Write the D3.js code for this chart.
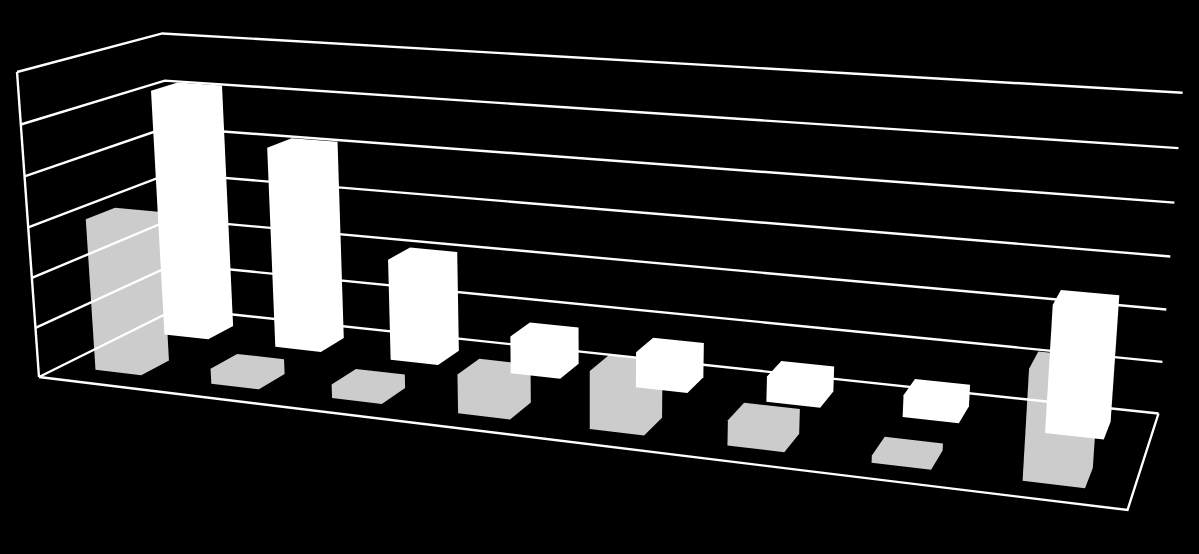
<!DOCTYPE html>
<html>
<head>
<meta charset="utf-8">
<script src="https://cdn.jsdelivr.net/npm/d3@7"></script>
<style>
  html, body { margin: 0; background: #000; overflow: hidden; }
</style>
</head>
<body>
<script>
// values, in grid units (no labels in the original)
const categories = [1, 2, 3, 4, 5, 6, 7, 8];
const frontValues = [3.05, 0.3, 0.27, 0.75, 1.1, 0.47, 0.13, 1.98];
const backValues = [5.13, 4.14, 2.07, 0.75, 0.7, 0.5, 0.42, 2.4];
const levels = [0, 1, 2, 3, 4, 5, 6];
const rows = ["front", "back"];

const width = 1199, height = 554;

// camera : floor corners on screen, then top of the front left edge
const floor = [[39, 377], [1127.5, 510], [1158.5, 413.5], [177, 308.5]];
const frontTopY = 72;
const vanish = [588, 7999];

function makeProjection(q, topY, v) {
  const [[x0, y0], [x1, y1], [x2, y2], [x3, y3]] = q;
  const dx1 = x1 - x2, dx2 = x3 - x2, sx = x0 - x1 + x2 - x3;
  const dy1 = y1 - y2, dy2 = y3 - y2, sy = y0 - y1 + y2 - y3;
  const den = dx1 * dy2 - dx2 * dy1;
  const g = (sx * dy2 - dx2 * sy) / den;
  const h = (dx1 * sy - sx * dy1) / den;
  const a = x1 - x0 + g * x1, b = x3 - x0 + h * x3;
  const d = y1 - y0 + g * y1, e = y3 - y0 + h * y3;
  const s = (topY - y0) / (v[1] - topY);
  // u along the categories, w into the depth, t up the wall, all 0..1
  return (u, w, t) => {
    const W = g * u + h * w + 1 + s * t;
    return [(a * u + b * w + x0 + s * v[0] * t) / W, (d * u + e * w + y0 + s * v[1] * t) / W];
  };
}

const project = makeProjection(floor, frontTopY, vanish);

const u = d3.scaleBand().domain(categories).range([0, 1]).paddingInner(0.6).paddingOuter(0.3);
const w = d3.scaleBand().domain(rows).range([0, 1]).paddingInner(0.6).paddingOuter(0.3);
const t = d3.scaleLinear().domain([0, 6]).range([0, 1]);

const svg = d3.select("body").append("svg")
  .attr("width", width)
  .attr("height", height)
  .style("display", "block")
  .style("background", "#000");

const line = d3.line();

function barPath(cat, row, value) {
  const u0 = u(cat), u1 = u0 + u.bandwidth();
  const w0 = w(row), w1 = w0 + w.bandwidth();
  const corners = [];
  [u0, u1].forEach((a) => [w0, w1].forEach((b) => [0, value].forEach((v) => {
    corners.push(project(a, b, t(v)));
  })));
  return "M" + d3.polygonHull(corners).join("L") + "Z";
}

function drawBars(cls, row, values, color) {
  svg.append("g").attr("class", cls)
    .selectAll("path")
    .data(values)
    .enter()
    .append("path")
    .attr("d", (d, i) => barPath(categories[i], row, d))
    .attr("fill", color);
}

// gray row first, the wall lines run over it, white row on top
drawBars("front", "front", frontValues, "#cccccc");

const frame = svg.append("g").attr("fill", "none").attr("stroke", "#fff").attr("stroke-width", 2.4);

frame.selectAll(".level")
  .data(levels)
  .enter()
  .append("path")
  .attr("class", "level")
  .attr("d", (d) => line([project(0, 0, t(d)), project(0, 1, t(d)), project(1, 1, t(d))]));

frame.append("path").attr("d", line([project(0, 0, 0), project(0, 0, 1)]));
frame.append("path").attr("d", line([project(0, 0, 0), project(1, 0, 0), project(1, 1, 0)]));

drawBars("back", "back", backValues, "#ffffff");
</script>
</body>
</html>
